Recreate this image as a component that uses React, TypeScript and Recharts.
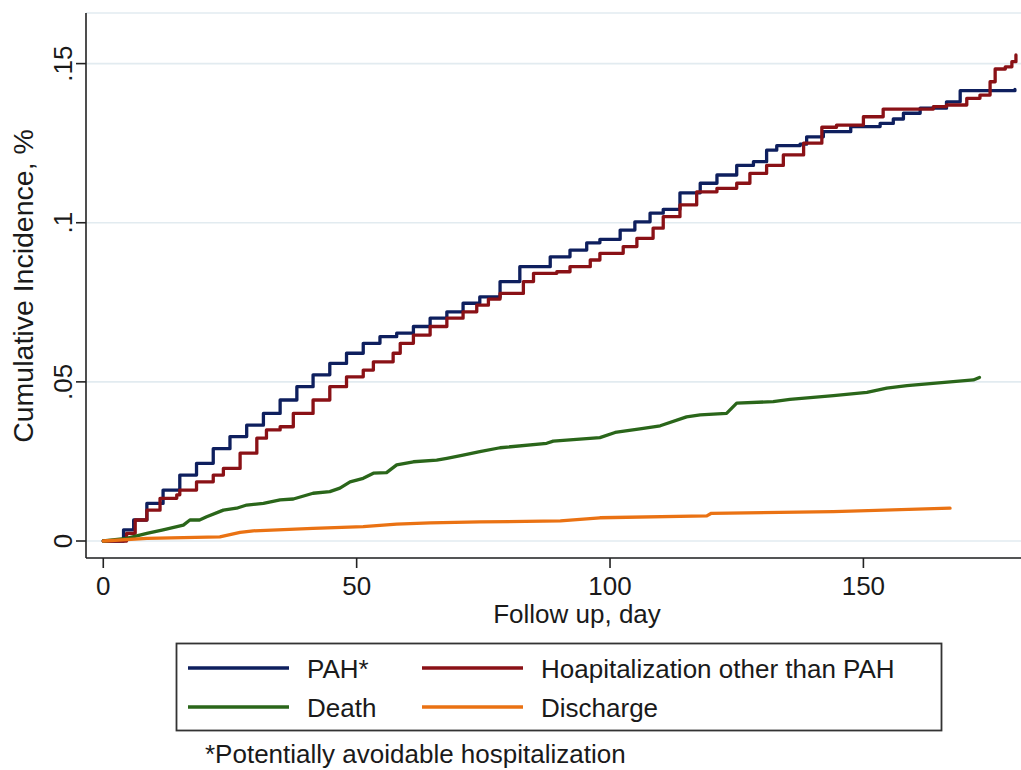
import { CartesianGrid, Label, Line, LineChart, XAxis, YAxis } from "recharts";

// follow-up day, cumulative incidence
const pahPoints = [
  [0, 0], [4.0, 0.0035], [6, 0.0066], [8.6, 0.0118], [11.8, 0.016], [15.1, 0.0207],
  [18.4, 0.0244], [21.7, 0.029], [25, 0.0328], [28.3, 0.0364], [31.6, 0.0401],
  [34.9, 0.0443], [38.2, 0.0485], [41.4, 0.0522], [44.7, 0.0558], [48, 0.059],
  [51.3, 0.0621], [54.6, 0.0642], [57.9, 0.0653], [61.2, 0.0674], [64.5, 0.07],
  [67.8, 0.072], [71, 0.0747], [74.3, 0.0767], [78.3, 0.0815], [82.2, 0.0862],
  [88.2, 0.0893], [92.1, 0.0914], [95.4, 0.0937], [98, 0.0948], [102, 0.0977],
  [104.9, 0.1003], [107.9, 0.103], [110.5, 0.1042], [113.8, 0.1094], [117.8, 0.1124],
  [121.1, 0.115], [125, 0.118], [128.3, 0.1192], [130.9, 0.1228], [132.9, 0.1242],
  [137.5, 0.1247], [138.8, 0.127], [142.1, 0.1286], [147.5, 0.1302], [153.3, 0.1312],
  [155.9, 0.1326], [157.9, 0.1344], [161.2, 0.136], [166.4, 0.138], [169.1, 0.1415],
  [179.9, 0.1419],
];

const hospPoints = [
  [0, 0], [4.6, 0.0024], [6.3, 0.0066], [8.6, 0.0097], [11.2, 0.0134], [14.5, 0.0145],
  [15.1, 0.016], [18.4, 0.0186], [21.7, 0.0207], [23.7, 0.0228], [27, 0.0276],
  [30.3, 0.0323], [32.2, 0.0349], [34.9, 0.0359], [37.5, 0.0401], [41.4, 0.0443],
  [44.7, 0.0485], [48, 0.0516], [51.3, 0.0537], [53.3, 0.0563], [57.2, 0.059],
  [58.6, 0.0621], [61.2, 0.0647], [64.5, 0.0674], [67.8, 0.07], [71, 0.072],
  [73.7, 0.0741], [76, 0.076], [78.3, 0.0778], [82.9, 0.0815], [84.9, 0.0841],
  [89.5, 0.0846], [92.1, 0.0862], [96.1, 0.0883], [98, 0.0904], [102.6, 0.0925],
  [105.3, 0.0951], [108.5, 0.0983], [110.5, 0.1019], [113.8, 0.1056], [117.1, 0.1097],
  [121.1, 0.1108], [125, 0.1124], [127.6, 0.1155], [130.9, 0.118], [134.2, 0.1213],
  [138.2, 0.125], [141.8, 0.13], [144.7, 0.1307], [150, 0.1333], [153.9, 0.1357],
  [163.8, 0.1365], [166.4, 0.137], [170.4, 0.1391], [173, 0.1401], [175, 0.1443],
  [176, 0.1483], [178, 0.149], [179.3, 0.1506], [180.1, 0.1527],
];

const deathPoints = [
  [0, 0], [4.6, 0.0008], [8.6, 0.0024], [11.8, 0.0035], [15.8, 0.005], [17.1, 0.0066],
  [19, 0.0066], [20.4, 0.0076], [23.7, 0.0097], [26.3, 0.0103], [28.3, 0.0113],
  [31.6, 0.0118], [34.9, 0.0129], [37.5, 0.0132], [41.4, 0.015], [44.7, 0.0155],
  [46.7, 0.0166], [48.7, 0.0186], [51.3, 0.0197], [53.3, 0.0213], [55.9, 0.0215],
  [57.9, 0.0239], [61.2, 0.0249], [65.8, 0.0254], [67.8, 0.026], [71, 0.027],
  [74.3, 0.0281], [78.3, 0.0293], [87.5, 0.0307], [88.8, 0.0314], [98, 0.0325],
  [101, 0.0341], [105.9, 0.0352], [109.9, 0.0362], [115.1, 0.039], [117.8, 0.0396],
  [123, 0.0401], [125, 0.0433], [132.2, 0.0438], [135.5, 0.0445], [144.1, 0.0457],
  [150.7, 0.0467], [154.6, 0.048], [158.6, 0.0488], [171.7, 0.0506], [172.9, 0.0514],
];

const dischargePoints = [
  [0, 0], [8.6, 0.0008], [23, 0.0013], [27, 0.0027], [29.6, 0.0032], [41.4, 0.004],
  [51.3, 0.0045], [57.9, 0.0053], [64.5, 0.0057], [74.3, 0.006], [90.2, 0.0063],
  [98, 0.0073], [119.1, 0.0079], [120, 0.0087], [144.1, 0.0092], [167.1, 0.0103],
];

const xTicks = [0, 50, 100, 150];
const yTicks = [0, 0.05, 0.1, 0.15];
const yTickLabels = ["0", ".05", ".1", ".15"];

const toRows = (pts: number[][]) => pts.map(([day, v]) => ({ day, v }));

const series = [
  { name: "PAH*", color: "#0e1f5e", data: toRows(pahPoints), step: true },
  { name: "Hoapitalization other than PAH", color: "#8a1116", data: toRows(hospPoints), step: true },
  { name: "Death", color: "#2a661a", data: toRows(deathPoints), step: false },
  { name: "Discharge", color: "#ea7213", data: toRows(dischargePoints), step: false },
];

const W = 1021;
const H = 770;
const FONT = '"Liberation Sans", Arial, Helvetica, sans-serif';
const INK = "#1a1a1a";

function XTick(props: any) {
  const { x, payload } = props;
  return (
    <text x={x} y={595} textAnchor="middle" fontSize={26} fill={INK} fontFamily={FONT}>
      {payload.value}
    </text>
  );
}

function YTick(props: any) {
  const { y, payload } = props;
  const i = yTicks.indexOf(payload.value);
  return (
    <text
      x={72}
      y={y}
      transform={`rotate(-90, 72, ${y})`}
      textAnchor="middle"
      fontSize={26}
      fill={INK}
      fontFamily={FONT}
    >
      {i >= 0 ? yTickLabels[i] : payload.value}
    </text>
  );
}

export default function App() {
  // legend grid: two columns, two rows
  const cols = [188, 422];
  const rows = [668, 707];

  return (
    <div style={{ position: "absolute", left: 0, top: 0, width: W, height: H, background: "#fff", fontFamily: FONT }}>
      <LineChart width={W} height={H} margin={{ top: 13, right: 0, bottom: 152, left: 0 }}>
        <CartesianGrid vertical={false} stroke="#e2ebf0" strokeWidth={1.6} />
        <XAxis
          type="number"
          dataKey="day"
          domain={[-3.41, 181.1]}
          allowDataOverflow
          ticks={xTicks}
          height={60}
          tickSize={10}
          stroke="#222"
          strokeWidth={1.6}
          tick={<XTick />}
        >
          <Label
            content={() => (
              <text x={577} y={623} textAnchor="middle" fontSize={26} fill={INK} fontFamily={FONT}>
                Follow up, day
              </text>
            )}
          />
        </XAxis>
        <YAxis
          type="number"
          dataKey="v"
          domain={[-0.00534, 0.1659]}
          allowDataOverflow
          ticks={yTicks}
          width={86}
          tickSize={10}
          stroke="#222"
          strokeWidth={1.6}
          tick={<YTick />}
        >
          <Label
            content={() => (
              <text
                x={33}
                y={286}
                transform="rotate(-90, 33, 286)"
                textAnchor="middle"
                fontSize={28.5}
                fill={INK}
                fontFamily={FONT}
              >
                Cumulative Incidence, %
              </text>
            )}
          />
        </YAxis>
        {series.map((s) => (
          <Line
            key={s.name}
            data={s.data}
            dataKey="v"
            name={s.name}
            type={s.step ? "stepAfter" : "linear"}
            stroke={s.color}
            strokeWidth={3.3}
            strokeLinecap="round"
            strokeLinejoin="round"
            dot={false}
            activeDot={false}
            isAnimationActive={false}
          />
        ))}
      </LineChart>

      <svg width={W} height={H} style={{ position: "absolute", left: 0, top: 0, pointerEvents: "none" }}>
        <rect x={176.5} y={643.5} width={765} height={87} fill="none" stroke="#333" strokeWidth={1.8} />
        {series.map((s, i) => {
          const cx = cols[i % 2];
          const cy = rows[Math.floor(i / 2)];
          return (
            <g key={s.name}>
              <line x1={cx} y1={cy} x2={cx + 101} y2={cy} stroke={s.color} strokeWidth={3.3} />
              <text x={cx + 119} y={cy + 10} fontSize={26} fill={INK} fontFamily={FONT}>
                {s.name}
              </text>
            </g>
          );
        })}
        <text x={205} y={763} fontSize={26} fill={INK} fontFamily={FONT}>
          *Potentially avoidable hospitalization
        </text>
      </svg>
    </div>
  );
}
